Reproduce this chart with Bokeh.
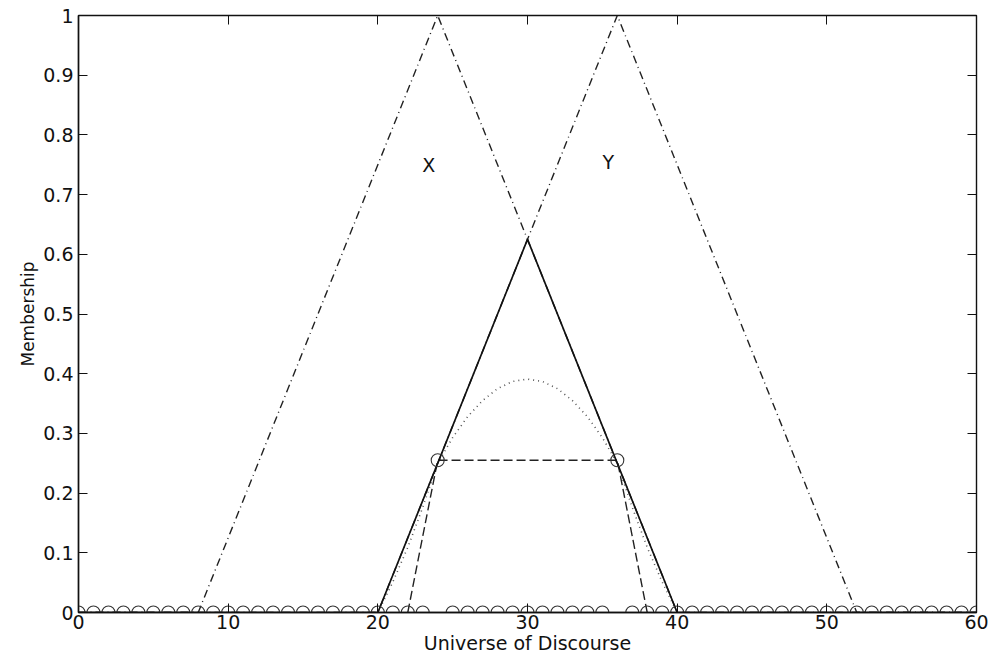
from bokeh.plotting import figure
from bokeh.models import LinearAxis, Range1d, FixedTicker
from bokeh.core.properties import value
from bokeh.embed import file_html
from bokeh.resources import INLINE

# Fuzzy set X: triangle on the universe of discourse
x_set_x = [0, 8, 24, 40, 60]
x_set_mu = [0, 0, 1, 0, 0]

# Fuzzy set Y: triangle on the universe of discourse
y_set_x = [0, 20, 36, 52, 60]
y_set_mu = [0, 0, 1, 0, 0]

# Minimum (intersection) of X and Y
min_x = [0, 20, 30, 40, 60]
min_mu = [0, 0, 0.625, 0, 0]

# Product of X and Y
prod_x = [20, 21, 22, 23, 24, 25, 26, 27, 28, 29, 30,
          31, 32, 33, 34, 35, 36, 37, 38, 39, 40]
prod_mu = [0, 0.051, 0.109, 0.176, 0.25, 0.293, 0.328, 0.355, 0.375, 0.387, 0.391,
           0.387, 0.375, 0.355, 0.328, 0.293, 0.25, 0.176, 0.109, 0.051, 0]

# Trapezoidal result
trap_x = [22, 24, 36, 38]
trap_mu = [0, 0.255, 0.255, 0]

# Sampled result on integer points
samp_x = list(range(0, 61))
samp_mu = [0, 0, 0, 0, 0, 0, 0, 0, 0, 0,
           0, 0, 0, 0, 0, 0, 0, 0, 0, 0,
           0, 0, 0, 0, 0.255, 0, 0, 0, 0, 0,
           0, 0, 0, 0, 0, 0, 0.255, 0, 0, 0,
           0, 0, 0, 0, 0, 0, 0, 0, 0, 0,
           0, 0, 0, 0, 0, 0, 0, 0, 0, 0,
           0]

# Set name labels
label_x = [23.4, 35.4]
label_y = [0.75, 0.755]
label_text = ["X", "Y"]

x_ticks = [0, 10, 20, 30, 40, 50, 60]
y_ticks = [0, 0.1, 0.2, 0.3, 0.4, 0.5, 0.6, 0.7, 0.8, 0.9, 1]

FONT = "DejaVu Sans"

p = figure(width=991, height=660, output_backend="svg", toolbar_location=None,
           x_range=Range1d(0, 60), y_range=Range1d(0, 1),
           min_border_left=78, min_border_right=15, min_border_top=15, min_border_bottom=48,
           x_axis_label="Universe of Discourse", y_axis_label="Membership")
p.background_fill_color = "white"
p.border_fill_color = "white"
p.xgrid.visible = False
p.ygrid.visible = False
p.outline_line_color = "#111111"
p.outline_line_width = 1.4

for ax in p.xaxis + p.yaxis:
    ax.axis_line_color = "#111111"
    ax.axis_line_width = 1.4
    ax.major_tick_in = 9
    ax.major_tick_out = 0
    ax.minor_tick_line_color = None
    ax.major_tick_line_color = "#111111"
    ax.major_label_text_font = FONT
    ax.major_label_text_font_size = "19px"
    ax.major_label_text_color = "#111111"
    ax.axis_label_text_font = FONT
    ax.axis_label_text_font_style = "normal"
    ax.axis_label_text_color = "#111111"
p.xaxis.ticker = FixedTicker(ticks=x_ticks)
p.yaxis.ticker = FixedTicker(ticks=y_ticks)
p.xaxis.major_label_standoff = 2
p.xaxis.axis_label_standoff = 0
p.xaxis.axis_label_text_font_size = "19px"
p.yaxis.major_label_standoff = 5
p.yaxis.axis_label_standoff = 2
p.yaxis.axis_label_text_font_size = "17px"

# Mirror ticks on the top and right edges
top = LinearAxis(ticker=FixedTicker(ticks=x_ticks), major_label_text_font_size="0px",
                 major_tick_in=9, major_tick_out=0, minor_tick_line_color=None,
                 axis_line_color="#111111", major_tick_line_color="#111111")
right = LinearAxis(ticker=FixedTicker(ticks=y_ticks), major_label_text_font_size="0px",
                   major_tick_in=9, major_tick_out=0, minor_tick_line_color=None,
                   axis_line_color="#111111", major_tick_line_color="#111111")
top.major_label_text_color = None
right.major_label_text_color = None
top.major_label_standoff = 0
right.major_label_standoff = 0
p.add_layout(top, "above")
p.add_layout(right, "right")

# X and Y membership functions (dash-dot)
p.line(x_set_x, x_set_mu, line_color="#222222", line_width=1.4, line_dash="8 4 1 4")
p.line(y_set_x, y_set_mu, line_color="#222222", line_width=1.4, line_dash="8 4 1 4")

# Product (dotted)
p.line(prod_x, prod_mu, line_color="#555555", line_width=1.6, line_dash="1 4")

# Trapezoid (dashed)
p.line(trap_x, trap_mu, line_color="#222222", line_width=1.4, line_dash="9 4")

# Minimum (solid)
p.line(min_x, min_mu, line_color="#111111", line_width=1.7)

# Sampled result (circles)
p.scatter(samp_x, samp_mu, marker="circle", size=13, fill_color=None,
          line_color="#333333", line_width=1.1)

p.text(label_x, label_y, text=label_text, text_font=value(FONT), text_font_size="19px",
       text_color="#111111", text_align="center", text_baseline="middle")

open("out.html", "w").write(file_html(p, INLINE))
